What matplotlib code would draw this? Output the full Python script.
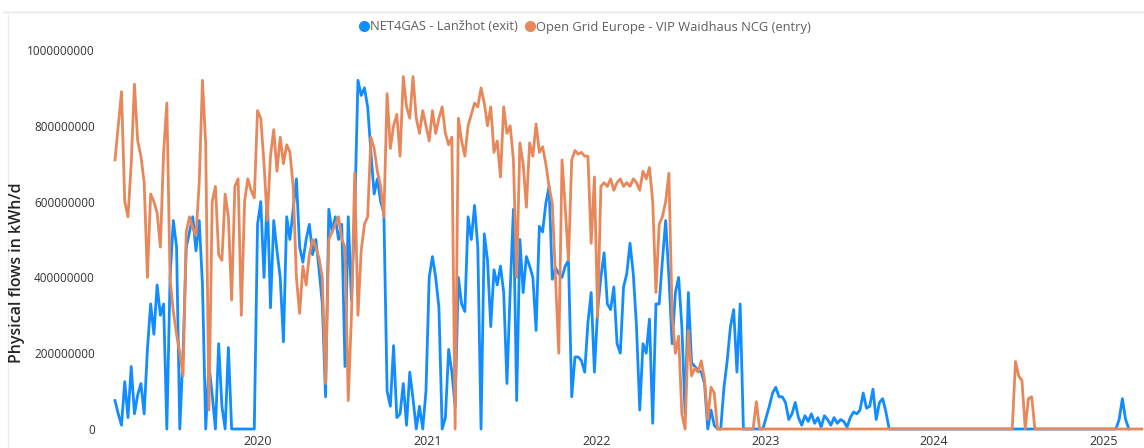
import pandas as pd
import matplotlib
matplotlib.use('Agg')
import matplotlib.pyplot as plt
import matplotlib.dates as mdates
from matplotlib.lines import Line2D
from matplotlib.ticker import FuncFormatter

plt.rcParams['font.family'] = ['Open Sans', 'DejaVu Sans']

# weekly readings, million kWh/d
week_start = '2019-02-26'
series_names = ['NET4GAS - Lanžhot (exit)', 'Open Grid Europe - VIP Waidhaus NCG (entry)']

net4gas = [
    75, 40, 10, 125, 30, 165, 40, 90, 120, 40,
    210, 330, 250, 380, 300, 330, 0, 400, 550, 480,
    0, 200, 480, 520, 560, 470, 550, 380, 0, 170,
    90, 0, 225, 60, 0, 215, 0, 0, 0, 0,
    0, 0, 0, 0, 540, 600, 400, 620, 320, 550,
    470, 400, 230, 560, 500, 580, 660, 480, 440, 500,
    540, 460, 500, 420, 330, 85, 580, 520, 560, 500,
    540, 165, 560, 340, 570, 920, 880, 900, 850, 730,
    620, 660, 600, 570, 100, 60, 220, 30, 40, 120,
    10, 150, 80, 0, 60, 0, 100, 400, 455, 400,
    320, 0, 30, 210, 150, 60, 400, 330, 310, 560,
    500, 590, 480, 0, 515, 445, 270, 420, 380, 430,
    360, 120, 365, 580, 75, 500, 360, 455, 430, 400,
    260, 535, 520, 595, 640, 395, 425, 410, 400, 430,
    445, 85, 190, 190, 180, 150, 280, 360, 150, 315,
    400, 465, 330, 315, 375, 225, 200, 375, 410, 490,
    410, 270, 50, 225, 200, 290, 15, 330, 330, 445,
    550, 400, 225, 360, 400, 270, 40, 360, 175, 165,
    155, 150, 120, 0, 50, 10, 0, 0, 110, 180,
    270, 315, 150, 330, 0, 0, 0, 0, 0, 0,
    0, 30, 60, 95, 110, 85, 85, 70, 25, 40,
    70, 30, 10, 35, 20, 40, 15, 30, 5, 35,
    25, 10, 30, 15, 25, 20, 5, 30, 45, 40,
    50, 95, 55, 60, 105, 25, 70, 80, 45, 0,
] + [0] * 70 + [25, 80, 25, 0]

oge = [
    710, 800, 890, 600, 560, 700, 910, 760, 720, 650,
    400, 620, 600, 570, 480, 730, 860, 395, 310, 250,
    200, 140, 520, 560, 530, 510, 650, 920, 750, 50,
    600, 640, 460, 445, 620, 560, 340, 640, 660, 300,
    600, 660, 630, 610, 840, 820, 700, 550, 720, 790,
    680, 770, 700, 750, 730, 640, 400, 305, 430, 380,
    460, 500, 480, 450, 400, 120, 500, 520, 540, 560,
    500, 480, 75, 300, 675, 300, 470, 540, 560, 770,
    740, 680, 640, 560, 885, 740, 800, 830, 720, 930,
    850, 820, 930, 820, 780, 840, 800, 760, 840, 780,
    820, 850, 780, 750, 770, 0, 820, 760, 720, 800,
    830, 860, 850, 900, 860, 800, 850, 730, 760, 665,
    850, 780, 800, 710, 400, 755, 700, 585, 755, 720,
    805, 730, 745, 700, 640, 595, 400, 200, 710, 585,
    445, 710, 735, 725, 730, 720, 720, 490, 665, 295,
    640, 650, 640, 660, 630, 650, 660, 640, 650, 640,
    660, 650, 630, 680, 660, 690, 600, 360, 540, 560,
    600, 675, 300, 200, 245, 40, 0, 260, 140, 160,
    150, 180, 130, 25, 110, 95, 0, 0, 0, 0,
    0, 0, 0, 0, 0, 0, 0, 0, 72, 0,
] + [0] * 78 + [178, 140, 128, 0, 80, 85, 0] + [0] * 33

colors = ['#118DFF', '#E8875A']
y_ticks = [0, 200000000, 400000000, 600000000, 800000000, 1000000000]

W, H = 1144, 448
fig = plt.figure(figsize=(W / 100, H / 100), dpi=100)
ax = fig.add_axes([110 / W, 19 / H, 1034 / W, 379 / H])

for vals, name, col in zip([net4gas, oge], series_names, colors):
    dates = pd.date_range(week_start, periods=len(vals), freq='7D')
    ax.plot(dates, [v * 1e6 for v in vals], color=col, lw=2.0,
            solid_joinstyle='round', clip_on=False, label=name)

# pixel scale: 2020 tick at x=258, 2025 tick at x=1103.4
px_per_day = (1103.4 - 258) / 1827
origin = pd.Timestamp('2020-01-01')
ax.set_xlim(origin + pd.Timedelta(days=(110 - 258) / px_per_day),
            origin + pd.Timedelta(days=(W - 258) / px_per_day))
ax.set_ylim(0, 1e9)

ax.xaxis.set_major_locator(mdates.YearLocator())
ax.xaxis.set_major_formatter(mdates.DateFormatter('%Y'))
ax.set_yticks(y_ticks)
ax.yaxis.set_major_formatter(FuncFormatter(lambda v, _: '%d' % v))
ax.tick_params(axis='both', length=0, labelcolor='#333333')
ax.tick_params(axis='y', pad=11, labelsize=8.5)
ax.tick_params(axis='x', pad=4, labelsize=9)
for s in ax.spines.values():
    s.set_visible(False)

fig.text(17 / W, 1 - 273 / H, 'Physical flows in kWh/d', rotation=90,
         ha='center', va='center', fontsize=11.5, fontweight='semibold', color='#252423')

handles = [Line2D([0], [0], color=c, marker='o', linestyle='', markersize=7) for c in colors]
fig.legend(handles, series_names, loc='center', bbox_to_anchor=(584 / W, 1 - 27 / H),
           ncol=2, frameon=False, fontsize=9.3, labelcolor='#605E5C',
           handletextpad=0.0, columnspacing=0.4, handlelength=1.0)

# container border lines
fig.add_artist(Line2D([3 / W, 1], [1 - 12 / H, 1 - 12 / H], color='#E8E8E8', lw=1))
fig.add_artist(Line2D([8 / W, 8 / W], [0, 1 - 12 / H], color='#EDEDED', lw=1))

fig.savefig('out.png', dpi=100)
